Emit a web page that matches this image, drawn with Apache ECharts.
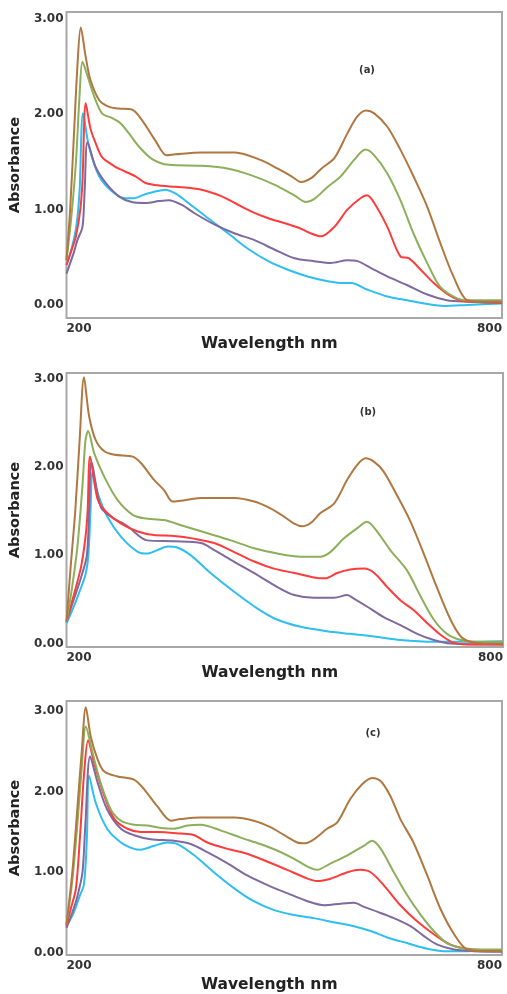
<!DOCTYPE html>
<html>
<head>
<meta charset="utf-8">
<script src="https://cdn.jsdelivr.net/npm/echarts@6/dist/echarts.min.js"></script>
<style>
html,body{margin:0;padding:0;background:#fff;}
#chart{width:507px;height:994px;}
</style>
</head>
<body>
<div id="chart"></div>
<script>
// ---- Data: [wavelength nm, absorbance] ----
const panelLabels = ['(a)', '(b)', '(c)'];
const seriesNames = ['brown', 'green', 'red', 'purple', 'cyan'];
const xTicks = [200, 800];
const yTicks = [0, 1, 2, 3];

const a_brown = [[200,0.47],[205,1.0],[210,1.75],[215,2.5],[219.6,2.91],[226.5,2.6],[233,2.36],[245,2.15],[258,2.08],[272,2.06],[290,2.05],[304,1.94],[322,1.73],[338,1.57],[350,1.58],[386,1.6],[432,1.6],[468,1.52],[491,1.43],[510,1.35],[523,1.29],[537,1.33],[551,1.43],[569,1.54],[587,1.8],[601,1.98],[613,2.04],[624,2.01],[642,1.87],[660,1.63],[678,1.35],[697,1.03],[715,0.65],[733,0.3],[752,0.05],[774,0.035],[800,0.035]];
const a_green = [[200,0.47],[207,0.95],[213,1.5],[218,2.2],[222,2.55],[229,2.4],[238,2.19],[249,2.01],[263,1.96],[274,1.91],[286,1.8],[300,1.66],[318,1.53],[341,1.47],[386,1.46],[423,1.43],[455,1.36],[487,1.26],[514,1.15],[530,1.08],[541,1.11],[560,1.24],[578,1.35],[596,1.52],[612,1.63],[624,1.57],[642,1.38],[660,1.1],[678,0.75],[697,0.44],[715,0.19],[738,0.07],[752,0.05],[800,0.05]];
const a_red = [[200,0.42],[208,0.6],[213,0.72],[219,1.0],[222,1.3],[226.5,2.12],[233,1.85],[240,1.7],[249,1.55],[263,1.47],[272,1.43],[295,1.35],[309,1.28],[331,1.25],[350,1.24],[386,1.21],[414,1.14],[432,1.07],[455,0.98],[478,0.91],[500,0.86],[523,0.8],[537,0.75],[551,0.72],[569,0.82],[587,1.0],[605,1.12],[614,1.15],[624,1.07],[642,0.82],[660,0.51],[672,0.49],[688,0.37],[706,0.23],[724,0.12],[742,0.05],[761,0.035],[800,0.025]];
const a_purple = [[200,0.33],[210,0.55],[215,0.68],[222,0.82],[225,1.2],[229,1.71],[240,1.45],[254,1.28],[272,1.14],[290,1.08],[309,1.07],[327,1.09],[341,1.1],[359,1.05],[377,0.96],[405,0.84],[432,0.75],[459,0.68],[487,0.58],[514,0.49],[541,0.46],[564,0.44],[587,0.47],[601,0.46],[619,0.39],[642,0.3],[669,0.21],[697,0.11],[724,0.05],[752,0.035],[800,0.024]];
const a_cyan = [[200,0.42],[208,0.62],[214,0.85],[218,1.2],[222.8,2.01],[231,1.66],[245,1.35],[263,1.19],[281,1.12],[293,1.12],[304,1.15],[322,1.19],[336,1.21],[350,1.17],[368,1.07],[395,0.91],[423,0.75],[450,0.59],[478,0.46],[505,0.37],[532,0.3],[560,0.25],[583,0.23],[592,0.23],[615,0.16],[642,0.09],[669,0.05],[697,0.01],[720,-0.01],[752,0.0],[800,0.017]];

const b_brown = [[200,0.25],[206,0.9],[212,1.5],[218,2.3],[224,3.02],[231,2.58],[240,2.31],[252,2.18],[266,2.14],[291,2.12],[302,2.05],[320,1.86],[334,1.74],[346,1.61],[357,1.62],[385,1.65],[430,1.65],[458,1.61],[481,1.53],[499,1.44],[513,1.36],[524,1.33],[536,1.37],[549,1.48],[568,1.59],[586,1.86],[600,2.03],[611,2.1],[623,2.06],[636,1.95],[655,1.67],[673,1.38],[691,1.02],[709,0.64],[728,0.27],[742,0.08],[755,0.02],[774,0.0],[800,0.0]];
const b_green = [[200,0.25],[207,0.6],[215,1.1],[222,1.8],[226,2.3],[229.7,2.41],[238,2.16],[252,1.89],[270,1.63],[291,1.46],[307,1.42],[334,1.4],[362,1.33],[394,1.25],[426,1.17],[458,1.08],[490,1.02],[522,0.985],[549,0.985],[563,1.04],[581,1.19],[600,1.31],[613,1.38],[627,1.27],[645,1.06],[668,0.83],[687,0.53],[705,0.27],[723,0.11],[742,0.04],[760,0.02],[800,0.02]];
const b_red = [[200,0.25],[210,0.55],[220,0.87],[226,1.2],[229,1.5],[232.4,2.12],[243,1.63],[256,1.48],[275,1.36],[298,1.27],[320,1.23],[348,1.22],[375,1.19],[403,1.14],[430,1.04],[458,0.93],[485,0.85],[513,0.8],[540,0.75],[556,0.74],[572,0.8],[590,0.84],[609,0.85],[623,0.8],[641,0.64],[659,0.49],[677,0.38],[696,0.23],[714,0.1],[732,0.01],[751,-0.01],[800,-0.01]];
const b_purple = [[200,0.25],[210,0.5],[220,0.75],[228,1.0],[231,1.5],[234.3,2.06],[247,1.55],[261,1.44],[284,1.33],[311,1.17],[348,1.16],[385,1.14],[403,1.06],[430,0.93],[462,0.78],[490,0.64],[513,0.55],[540,0.52],[568,0.52],[586,0.55],[595,0.51],[613,0.42],[636,0.3],[659,0.21],[682,0.11],[705,0.04],[728,0.0],[800,-0.01]];
const b_cyan = [[200,0.23],[210,0.42],[217,0.57],[226,0.78],[230,1.0],[233,1.5],[235.6,1.94],[243,1.7],[256,1.44],[275,1.21],[298,1.04],[311,1.02],[325,1.06],[339,1.1],[352,1.09],[371,1.0],[398,0.8],[430,0.59],[462,0.4],[490,0.27],[522,0.19],[558,0.14],[590,0.11],[623,0.08],[659,0.04],[705,0.02],[751,0.02],[800,0.027]];

const c_brown = [[200,0.35],[208,1.0],[215,1.8],[221,2.5],[226.6,3.05],[233.5,2.68],[243,2.4],[252,2.25],[270,2.19],[293,2.15],[307,2.03],[325,1.82],[344,1.64],[357,1.66],[385,1.68],[431,1.68],[458,1.64],[481,1.56],[500,1.46],[518,1.37],[529,1.36],[541,1.41],[559,1.54],[573,1.62],[591,1.91],[607,2.09],[621,2.17],[633,2.13],[646,1.95],[660,1.66],[678,1.37],[697,0.96],[715,0.55],[734,0.23],[752,0.04],[775,0.02],[800,0.02]];
const c_green = [[200,0.35],[208,0.9],[215,1.6],[221,2.3],[226.6,2.81],[236,2.48],[247,2.11],[261,1.78],[275,1.64],[293,1.59],[312,1.58],[330,1.55],[348,1.54],[367,1.58],[385,1.59],[412,1.52],[440,1.43],[467,1.35],[490,1.27],[513,1.17],[532,1.07],[545,1.03],[564,1.11],[587,1.21],[610,1.33],[621,1.39],[633,1.29],[651,1.0],[669,0.72],[688,0.47],[706,0.27],[724,0.12],[743,0.06],[761,0.04],[800,0.04]];
const c_red = [[200,0.33],[206,0.55],[213,0.8],[219,1.5],[224,2.2],[229.8,2.64],[238,2.36],[252,1.95],[266,1.66],[284,1.54],[302,1.5],[325,1.5],[357,1.48],[376,1.46],[394,1.37],[422,1.29],[449,1.23],[477,1.13],[504,1.03],[532,0.92],[545,0.89],[564,0.92],[587,1.0],[605,1.03],[619,1.0],[637,0.84],[660,0.59],[683,0.39],[706,0.23],[729,0.1],[752,0.05],[800,0.02]];
const c_purple = [[200,0.31],[208,0.5],[215,0.7],[222,1.0],[226,1.6],[232.6,2.44],[243,2.11],[256,1.78],[275,1.54],[293,1.46],[316,1.41],[348,1.39],[371,1.35],[394,1.25],[422,1.11],[449,0.96],[477,0.84],[504,0.74],[532,0.64],[555,0.59],[578,0.61],[596,0.62],[610,0.57],[628,0.51],[651,0.43],[674,0.33],[692,0.21],[711,0.1],[734,0.04],[761,0.02],[800,0.012]];
const c_cyan = [[200,0.33],[210,0.5],[218,0.7],[224,0.85],[228,1.4],[231.2,2.2],[240,1.87],[256,1.54],[275,1.37],[293,1.29],[302,1.28],[321,1.33],[339,1.37],[353,1.35],[376,1.21],[403,1.0],[431,0.8],[458,0.64],[486,0.53],[513,0.47],[541,0.43],[568,0.38],[596,0.33],[619,0.27],[642,0.19],[669,0.12],[697,0.05],[720,0.02],[752,0.02],[800,0.03]];

// ---- Styling / layout ----
const colors = {brown:'#B07840', green:'#8CAF5A', red:'#FF3C3C', purple:'#7F6A9F', cyan:'#2EBEF0'};
const panels = [
  {data:{brown:a_brown, green:a_green, red:a_red, purple:a_purple, cyan:a_cyan},
   grid:{left:64, top:12, width:438, height:306}, ymin:-0.136, ymax:3.073, nameGap:15, tag:[367,70]},
  {data:{brown:b_brown, green:b_green, red:b_red, purple:b_purple, cyan:b_cyan},
   grid:{left:66, top:373, width:437, height:274}, ymin:-0.039, ymax:3.068, nameGap:17, tag:[368,412]},
  {data:{brown:c_brown, green:c_green, red:c_red, purple:c_purple, cyan:c_cyan},
   grid:{left:66, top:701, width:436, height:256}, ymin:-0.028, ymax:3.127, nameGap:22, tag:[373,733]}
];
const FONT = 'DejaVu Sans';
const drawOrder = ['cyan', 'purple', 'red', 'green', 'brown'];

const grids = [], xAxes = [], yAxes = [], series = [], graphics = [];
panels.forEach((p, i) => {
  grids.push(Object.assign({show:true, borderColor:'#a8a8a8', borderWidth:2, backgroundColor:'#fff'}, p.grid));
  xAxes.push({
    type:'value', gridIndex:i, min:200, max:800, interval:600,
    axisLine:{show:false}, axisTick:{show:false}, splitLine:{show:false},
    axisLabel:{fontFamily:FONT, fontWeight:'bold', fontSize:12, color:'#333', margin:5,
      alignMinLabel:'left', alignMaxLabel:'right'},
    name:'Wavelength nm', nameLocation:'middle', nameGap:p.nameGap,
    nameTextStyle:{fontFamily:FONT, fontWeight:'bold', fontSize:15.5, color:'#222', padding:[0,30,0,0]}
  });
  yAxes.push({
    type:'value', gridIndex:i, min:p.ymin, max:p.ymax,
    axisLine:{show:false}, axisTick:{show:false}, splitLine:{show:false},
    axisLabel:{customValues:yTicks, formatter:v => Number(v).toFixed(2),
      fontFamily:FONT, fontWeight:'bold', fontSize:12, color:'#333', margin:3},
    name:'Absorbance', nameLocation:'middle', nameRotate:90, nameGap:36,
    nameTextStyle:{fontFamily:FONT, fontWeight:'bold', fontSize:14.5, color:'#222'}
  });
  drawOrder.forEach(k => {
    series.push({
      type:'line', name:k, xAxisIndex:i, yAxisIndex:i, data:p.data[k],
      showSymbol:false, smooth:0.3, lineStyle:{color:colors[k], width:2}, itemStyle:{color:colors[k]},
      silent:true, animation:false, clip:true
    });
  });
  graphics.push({type:'text', x:p.tag[0], y:p.tag[1],
    style:{text:panelLabels[i], font:'bold 10px "DejaVu Sans"', fill:'#333', textAlign:'center', textVerticalAlign:'middle'}});
});

const chart = echarts.init(document.getElementById('chart'), null, {renderer:'canvas'});
chart.setOption({
  animation:false,
  backgroundColor:'#fff',
  grid:grids, xAxis:xAxes, yAxis:yAxes, series:series, graphic:graphics
});
</script>
</body>
</html>
